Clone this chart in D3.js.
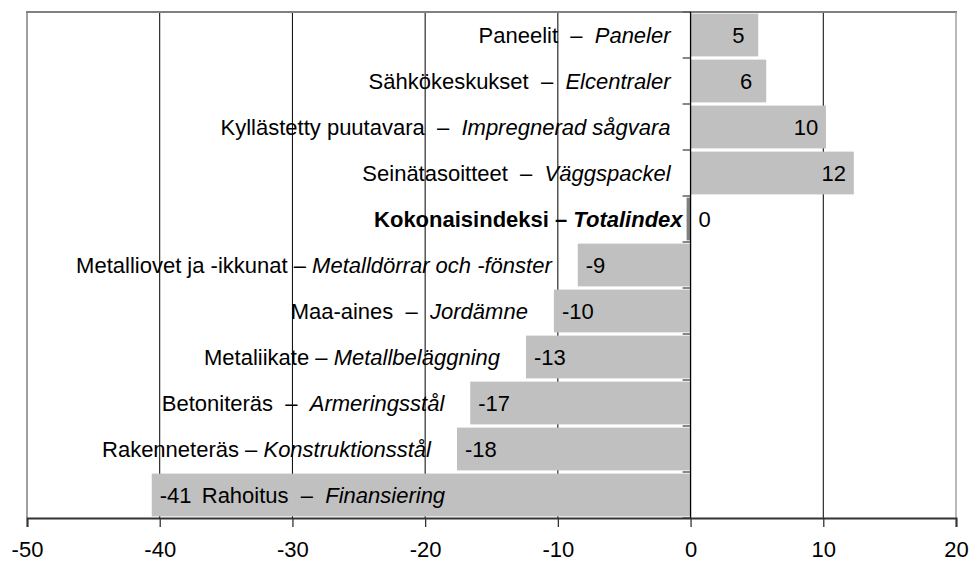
<!DOCTYPE html>
<html>
<head>
<meta charset="utf-8">
<script src="https://cdn.jsdelivr.net/npm/d3@7"></script>
<style>
  html, body { margin: 0; padding: 0; background: #fff; }
  svg text { font-family: "Liberation Sans", Arial, sans-serif; white-space: pre; }
</style>
</head>
<body>
<svg id="chart" width="970" height="563"></svg>
<script>
// ---- data ----
const labelsFi = [
  "Paneelit  \u2013  ",
  "Sähkökeskukset  \u2013  ",
  "Kyllästetty puutavara  \u2013  ",
  "Seinätasoitteet  \u2013  ",
  "Kokonaisindeksi \u2013 ",
  "Metalliovet ja -ikkunat \u2013 ",
  "Maa-aines  \u2013  ",
  "Metaliikate \u2013 ",
  "Betoniteräs  \u2013  ",
  "Rakenneteräs \u2013 ",
  "Rahoitus  \u2013  "
];
const labelsSv = [
  "Paneler",
  "Elcentraler",
  "Impregnerad sågvara",
  "Väggspackel",
  "Totalindex",
  "Metalldörrar och -fönster",
  "Jordämne",
  "Metallbeläggning",
  "Armeringsstål",
  "Konstruktionsstål",
  "Finansiering"
];
const values = [5.1, 5.7, 10.2, 12.3, -0.3, -8.5, -10.3, -12.4, -16.6, -17.6, -40.6];
const valueLabels = ["5", "6", "10", "12", "0", "-9", "-10", "-13", "-17", "-18", "-41"];
const isTotal = [false, false, false, false, true, false, false, false, false, false, false];
const xTicks = [-50, -40, -30, -20, -10, 0, 10, 20];

// ---- layout ----
const svg = d3.select("#chart");
const pL = 27, pR = 956, pT = 12, pB = 518;
const FS = 22;

const x = d3.scaleLinear().domain([-50, 20]).range([pL, pR]);
const idx = d3.range(values.length);
const y = d3.scaleBand().domain(idx).range([pT, pB]).paddingInner(0.07).paddingOuter(0.035);

// gridlines
svg.append("g").selectAll("line")
  .data(xTicks.filter(t => t !== 0 && t !== -50 && t !== 20))
  .join("line")
  .attr("x1", d => x(d)).attr("x2", d => x(d))
  .attr("y1", pT).attr("y2", pB)
  .attr("stroke", "#000").attr("stroke-width", 1);

// bars
svg.append("g").selectAll("rect")
  .data(idx)
  .join("rect")
  .attr("x", i => x(Math.min(0, values[i])))
  .attr("width", i => Math.abs(x(values[i]) - x(0)))
  .attr("y", i => y(i))
  .attr("height", y.bandwidth())
  .attr("fill", i => isTotal[i] ? "#808080" : "#c0c0c0");

// frame (left, top, right)
svg.append("line").attr("x1", pL).attr("x2", pL).attr("y1", pT).attr("y2", pB)
  .attr("stroke", "#a0a0a0").attr("stroke-width", 2);
svg.append("line").attr("x1", pL - 1).attr("x2", pR + 1).attr("y1", pT).attr("y2", pT)
  .attr("stroke", "#808080").attr("stroke-width", 2);
svg.append("line").attr("x1", pR).attr("x2", pR).attr("y1", pT).attr("y2", pB)
  .attr("stroke", "#a0a0a0").attr("stroke-width", 1.5);

// category axis at zero
const boundaries = d3.range(values.length + 1).map(k => pT + (pB - pT) * k / values.length);
svg.append("g").selectAll("line")
  .data(boundaries)
  .join("line")
  .attr("x1", x(0) - 8).attr("x2", x(0))
  .attr("y1", d => d).attr("y2", d => d)
  .attr("stroke", "#606060").attr("stroke-width", 1.5);
svg.append("line").attr("x1", x(0)).attr("x2", x(0)).attr("y1", pT).attr("y2", pB)
  .attr("stroke", "#000").attr("stroke-width", 1.3);

// bottom axis
const xAxis = d3.axisBottom(x).tickValues(xTicks).tickSize(9).tickPadding(14).tickFormat(d3.format("d"));
const gx = svg.append("g").attr("transform", `translate(0,${pB})`).call(xAxis);
gx.select(".domain").attr("stroke", "#333").attr("stroke-width", 2);
gx.selectAll(".tick line").attr("stroke", "#333").attr("stroke-width", 1.3);
gx.selectAll(".tick text").attr("font-size", FS).attr("fill", "#000")
  .attr("font-family", "'Liberation Sans', Arial, sans-serif")
  .text(d => d < 0 ? "-" + Math.abs(d) : d);

// value labels
const vl = svg.append("g");
idx.forEach(i => {
  const v = values[i];
  const cy = y(i) + y.bandwidth() / 2;
  const t = vl.append("text").attr("y", cy).attr("dy", "0.35em").attr("font-size", FS).text(valueLabels[i]);
  if (isTotal[i]) {
    t.attr("x", x(0) + 8).attr("text-anchor", "start");
  } else if (v >= 0) {
    t.attr("x", x(v) - 20).attr("text-anchor", "middle");
  } else {
    t.attr("x", x(v) + 8).attr("text-anchor", "start");
  }
});

// category labels
const cl = svg.append("g");
idx.forEach(i => {
  const v = values[i];
  const cy = y(i) + y.bandwidth() / 2;
  const t = cl.append("text").attr("y", cy).attr("dy", "0.35em").attr("font-size", FS)
    .attr("font-weight", isTotal[i] ? "bold" : "normal");
  t.append("tspan").text(labelsFi[i]);
  t.append("tspan").attr("font-style", "italic").text(labelsSv[i]);
  const w = t.node().getComputedTextLength();
  let endX;
  if (isTotal[i]) endX = x(0) - 8;
  else if (v >= 0) endX = x(0) - 20;
  else endX = x(v) - 26;
  if (endX - w < pL) {
    t.attr("x", x(v) + 50).attr("text-anchor", "start");
  } else {
    t.attr("x", endX).attr("text-anchor", "end");
  }
});
</script>
</body>
</html>
